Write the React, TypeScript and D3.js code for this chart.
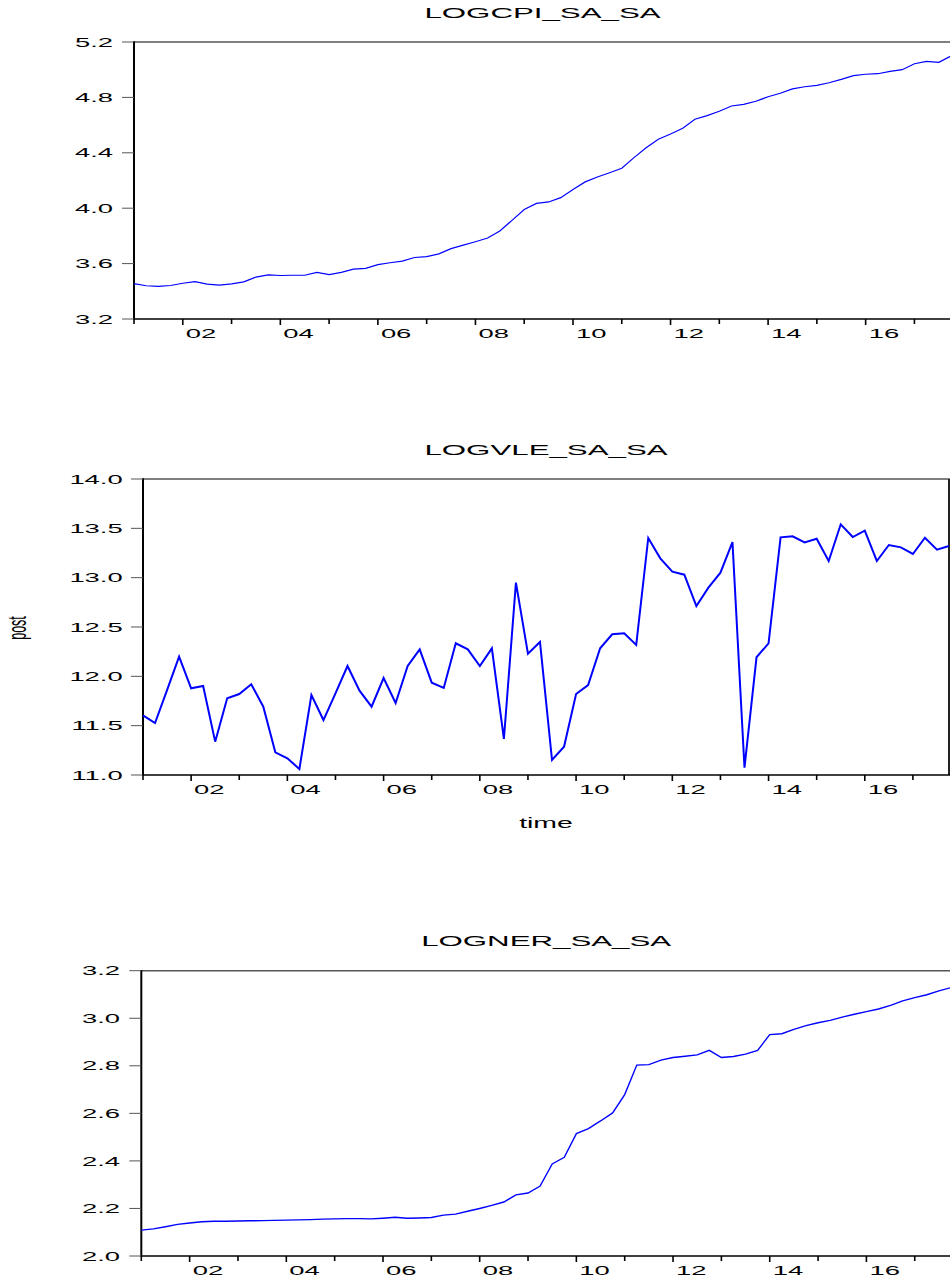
import React from "react";
import * as d3 from "d3";

// Quarterly observations 2001Q1 .. 2017Q4
const periods: string[] = d3
  .range(2001, 2018)
  .flatMap((y) => [1, 2, 3, 4].map((q) => `${y}Q${q}`));

const logCpi = [
  3.455, 3.44, 3.436, 3.442, 3.458, 3.47, 3.452, 3.444, 3.454, 3.468,
  3.503, 3.519, 3.514, 3.516, 3.516, 3.536, 3.521, 3.537, 3.56, 3.565,
  3.592, 3.606, 3.618, 3.644, 3.65, 3.67, 3.708, 3.733, 3.758, 3.785,
  3.836, 3.912, 3.99, 4.035, 4.045, 4.076, 4.135, 4.19, 4.225, 4.256,
  4.288, 4.365, 4.437, 4.498, 4.536, 4.577, 4.642, 4.668, 4.7, 4.738,
  4.75, 4.772, 4.805, 4.83, 4.861, 4.877, 4.887, 4.906, 4.93, 4.957,
  4.967, 4.971, 4.988, 5.0, 5.043, 5.06, 5.053, 5.099,
];

const logVle = [
  11.605, 11.527, 11.86, 12.199, 11.879, 11.902, 11.338, 11.777, 11.821, 11.919,
  11.692, 11.23, 11.169, 11.061, 11.811, 11.557, 11.828, 12.105, 11.855, 11.692,
  11.983, 11.73, 12.105, 12.274, 11.936, 11.882, 12.335, 12.274, 12.105, 12.284,
  11.365, 12.949, 12.23, 12.348, 11.152, 11.287, 11.821, 11.912, 12.284, 12.426,
  12.436, 12.318, 13.402, 13.196, 13.061, 13.03, 12.713, 12.899, 13.05, 13.361,
  11.074, 12.193, 12.335, 13.409, 13.419, 13.358, 13.395, 13.169, 13.541, 13.412,
  13.476, 13.169, 13.331, 13.307, 13.24, 13.405, 13.284, 13.321,
];

const logNer = [
  2.109, 2.114, 2.123, 2.133, 2.139, 2.144, 2.146, 2.146, 2.147, 2.148,
  2.149, 2.15, 2.151, 2.152, 2.153, 2.155, 2.156, 2.157, 2.157, 2.156,
  2.159, 2.163, 2.159, 2.16, 2.162, 2.172, 2.176, 2.188, 2.2, 2.213,
  2.227, 2.257, 2.265, 2.294, 2.387, 2.415, 2.515, 2.536, 2.568, 2.602,
  2.679, 2.803, 2.805, 2.824, 2.835, 2.84, 2.846, 2.865, 2.835, 2.839,
  2.849, 2.865, 2.931, 2.935, 2.953, 2.969, 2.981, 2.991, 3.005, 3.017,
  3.028, 3.039, 3.054, 3.073, 3.087, 3.099, 3.115, 3.129,
];

const cpiTicks = [3.2, 3.6, 4.0, 4.4, 4.8, 5.2];
const vleTicks = [11.0, 11.5, 12.0, 12.5, 13.0, 13.5, 14.0];
const nerTicks = [2.0, 2.2, 2.4, 2.6, 2.8, 3.0, 3.2];

// year labels shown under every second year tick
const yearLabels = ["02", "04", "06", "08", "10", "12", "14", "16"];

const FONT = "'Liberation Sans', Arial, sans-serif";
const SX = 2.03; // horizontal glyph stretch

type PanelProps = {
  title: string;
  values: number[];
  ticks: number[];
  decimals: number;
  left: number;
  top: number;
  right: number;
  bottom: number;
  labelRight: number;
  lineWidth: number;
  rightBorder: boolean;
};

function SText(props: {
  x: number;
  y: number;
  size: number;
  anchor?: string;
  children: React.ReactNode;
  rotate?: number;
}) {
  const { x, y, size, anchor = "start", children, rotate } = props;
  const t = `translate(${x},${y}) scale(${SX},1)` + (rotate ? ` rotate(${rotate})` : "");
  return (
    <text
      transform={t}
      fontFamily={FONT}
      fontSize={size}
      textAnchor={anchor}
      fill="#000"
    >
      {children}
    </text>
  );
}

function Panel(p: PanelProps) {
  const x = d3
    .scaleLinear()
    .domain([0, periods.length - 1])
    .range([p.left, p.right]);
  const y = d3
    .scaleLinear()
    .domain([p.ticks[0], p.ticks[p.ticks.length - 1]])
    .range([p.bottom, p.top]);

  const line = d3
    .line<number>()
    .x((_, i) => x(i))
    .y((d) => y(d));

  const yearStarts = periods
    .map((per, i) => ({ per, i }))
    .filter((d) => d.per.endsWith("Q1"));

  const fmt = d3.format(`.${p.decimals}f`);
  const cx = (p.left + p.right) / 2;

  return (
    <g>
      <SText x={cx} y={p.top - 24.5} size={15.4} anchor="middle">
        {p.title}
      </SText>

      {/* frame */}
      <line x1={p.left} x2={p.right + 2} y1={p.top} y2={p.top} stroke="#555" strokeWidth={1.4} />
      {p.rightBorder && (
        <line x1={p.right} x2={p.right} y1={p.top} y2={p.bottom} stroke="#222" strokeWidth={2} />
      )}
      <line x1={p.left} x2={p.right + 2} y1={p.bottom} y2={p.bottom} stroke="#000" strokeWidth={1.3} />
      <line x1={p.left} x2={p.left} y1={p.top - 0.7} y2={p.bottom + 0.6} stroke="#000" strokeWidth={2} />

      {/* y axis */}
      {p.ticks.map((t) => (
        <g key={t}>
          <line
            x1={p.left - 12}
            x2={p.left}
            y1={y(t)}
            y2={y(t)}
            stroke="#555"
            strokeWidth={1}
          />
          <SText x={p.labelRight} y={y(t) + 4.6} size={13.5} anchor="end">
            {fmt(t)}
          </SText>
        </g>
      ))}

      {/* x axis */}
      {yearStarts.map(({ per, i }) => {
        const lab = per.slice(2, 4);
        const labeled = yearLabels.includes(lab);
        return (
          <g key={per}>
            <line
              x1={x(i)}
              x2={x(i)}
              y1={p.bottom}
              y2={p.bottom + (labeled ? 6 : 5)}
              stroke="#000"
              strokeWidth={1.6}
            />
            {labeled && (
              <SText x={x(i) + 3} y={p.bottom + 19} size={13.5}>
                {lab}
              </SText>
            )}
          </g>
        );
      })}

      <path
        d={line(p.values) || ""}
        fill="none"
        stroke="#0000ff"
        strokeWidth={p.lineWidth}
        strokeLinejoin="miter"
      />
    </g>
  );
}

export default function App() {
  return (
    <svg
      width={950}
      height={1279}
      style={{ position: "absolute", left: 0, top: 0, background: "#fff" }}
    >
      <rect width={950} height={1279} fill="#fff" />
      <Panel
        title="LOGCPI_SA_SA"
        values={logCpi}
        ticks={cpiTicks}
        decimals={1}
        left={134}
        top={42}
        right={951}
        bottom={319}
        labelRight={113}
        lineWidth={1.2}
        rightBorder={false}
      />
      <Panel
        title="LOGVLE_SA_SA"
        values={logVle}
        ticks={vleTicks}
        decimals={1}
        left={143}
        top={479}
        right={949}
        bottom={775}
        labelRight={122.7}
        lineWidth={2}
        rightBorder={true}
      />
      <Panel
        title="LOGNER_SA_SA"
        values={logNer}
        ticks={nerTicks}
        decimals={1}
        left={141.3}
        top={970.7}
        right={951}
        bottom={1256}
        labelRight={120}
        lineWidth={1.4}
        rightBorder={false}
      />
      <SText x={546} y={827.5} size={14} anchor="middle">
        time
      </SText>
      <text
        transform={`translate(26,628) scale(${SX},1) rotate(-90)`}
        fontFamily={FONT}
        fontSize={12.5}
        textAnchor="middle"
        fill="#000"
      >
        post
      </text>
    </svg>
  );
}
